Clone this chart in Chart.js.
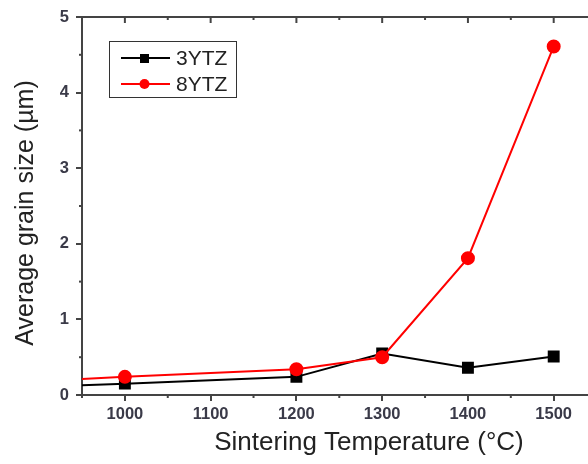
<!DOCTYPE html>
<html>
<head>
<meta charset="utf-8">
<script src="https://cdn.jsdelivr.net/npm/chart.js@4"></script>
<style>
  html, body { margin: 0; padding: 0; background: #fff; }
  #wrap { width: 588px; height: 464px; }
</style>
</head>
<body>
<div id="wrap"><canvas id="grainChart" width="588" height="464"></canvas></div>
<script>
// data (first point sits on the left frame, no marker)
const temperatures = [950, 1000, 1200, 1300, 1400, 1500];
const ytz3 = [0.13, 0.15, 0.24, 0.55, 0.36, 0.51];
const ytz8 = [0.21, 0.24, 0.34, 0.50, 1.81, 4.61];
const xTicks = [1000, 1100, 1200, 1300, 1400, 1500];
const xMinor = [950, 1050, 1150, 1250, 1350, 1450, 1550];
const yTicks = [0, 1, 2, 3, 4, 5];
const yMinor = [0.5, 1.5, 2.5, 3.5, 4.5];
const xTitle = "Sintering Temperature (°C)";
const yTitle = "Average grain size (µm)";

const FONT = "'Liberation Sans', Arial, sans-serif";
const AXIS = "#444";

const toPoints = ys => temperatures.map((t, i) => ({ x: t, y: ys[i] }));
const radii = r => temperatures.map((t, i) => (i === 0 ? 0 : r));

// minor ticks, top frame, titles and the boxed legend
const decorations = {
  id: "decorations",
  afterDraw(chart) {
    const { ctx, chartArea: a, scales } = chart;
    const x = scales.x, y = scales.y;
    ctx.save();
    ctx.strokeStyle = AXIS;
    ctx.lineWidth = 2;
    // top frame
    ctx.beginPath();
    ctx.moveTo(a.left - 1, a.top);
    ctx.lineTo(a.right, a.top);
    ctx.stroke();
    // top ticks pointing inward
    xTicks.forEach(v => {
      const px = x.getPixelForValue(v);
      ctx.beginPath(); ctx.moveTo(px, a.top); ctx.lineTo(px, a.top + 6); ctx.stroke();
    });
    xMinor.forEach(v => {
      const px = x.getPixelForValue(v);
      if (px > a.right) return;
      ctx.beginPath(); ctx.moveTo(px, a.top); ctx.lineTo(px, a.top + 3); ctx.stroke();
      ctx.beginPath(); ctx.moveTo(px, a.bottom); ctx.lineTo(px, a.bottom + 3); ctx.stroke();
    });
    yMinor.forEach(v => {
      const py = y.getPixelForValue(v);
      ctx.beginPath(); ctx.moveTo(a.left - 3, py); ctx.lineTo(a.left + 1, py); ctx.stroke();
    });

    // axis titles
    ctx.fillStyle = "#222";
    ctx.textAlign = "center";
    ctx.textBaseline = "middle";
    ctx.font = "26px " + FONT;
    ctx.fillText(xTitle, 369, 443);
    ctx.save();
    ctx.translate(26, 213);
    ctx.rotate(-Math.PI / 2);
    ctx.font = "25px " + FONT;
    ctx.fillText(yTitle, 0, 0);
    ctx.restore();

    // legend
    const lx = 109, ly = 41, lw = 127, lh = 56;
    ctx.lineWidth = 1;
    ctx.strokeStyle = "#333";
    ctx.strokeRect(lx + 0.5, ly + 0.5, lw, lh);
    chart.data.datasets.forEach((ds, i) => {
      const rowY = ly + 17 + i * 26;
      ctx.strokeStyle = ds.borderColor;
      ctx.lineWidth = 2;
      ctx.beginPath(); ctx.moveTo(lx + 12, rowY); ctx.lineTo(lx + 61, rowY); ctx.stroke();
      ctx.fillStyle = ds.backgroundColor;
      if (ds.pointStyle === "rect") {
        ctx.fillRect(lx + 31, rowY - 4, 9, 9);
      } else {
        ctx.beginPath(); ctx.arc(lx + 35.5, rowY, 5, 0, Math.PI * 2); ctx.fill();
      }
      ctx.fillStyle = "#222";
      ctx.font = "21px " + FONT;
      ctx.textAlign = "left";
      ctx.fillText(ds.label, lx + 67, rowY + 1);
    });
    ctx.restore();
  }
};

new Chart(document.getElementById("grainChart"), {
  type: "line",
  data: {
    datasets: [
      {
        label: "3YTZ",
        data: toPoints(ytz3),
        borderColor: "#000",
        backgroundColor: "#000",
        borderWidth: 2,
        pointStyle: "rect",
        pointRadius: radii(7),
        order: 1
      },
      {
        label: "8YTZ",
        data: toPoints(ytz8),
        borderColor: "#ff0000",
        backgroundColor: "#ff0000",
        borderWidth: 2,
        pointStyle: "circle",
        pointRadius: radii(6),
        order: 0
      }
    ]
  },
  options: {
    responsive: false,
    animation: false,
    // the figure is cropped at the right, so no room kept for markers
    layout: { padding: 0, autoPadding: false },
    plugins: { legend: { display: false }, tooltip: { enabled: false } },
    elements: { line: { tension: 0 }, point: { borderWidth: 0 } },
    scales: {
      x: {
        type: "linear",
        min: 950,
        max: 1540,
        afterBuildTicks: s => { s.ticks = xTicks.map(v => ({ value: v })); },
        afterFit: s => { s.height = 69; },
        grid: { drawOnChartArea: false, tickLength: 6, color: AXIS, lineWidth: 2 },
        border: { color: AXIS, width: 2 },
        ticks: {
          color: "#3a3a48",
          font: { family: FONT, size: 16.5, weight: "bold" },
          padding: 4,
          maxRotation: 0,
          callback: v => String(v)
        }
      },
      y: {
        min: 0,
        max: 5,
        afterBuildTicks: s => { s.ticks = yTicks.map(v => ({ value: v })); },
        afterFit: s => { s.width = 82; },
        grid: { drawOnChartArea: false, tickLength: 6, color: AXIS, lineWidth: 2 },
        border: { color: AXIS, width: 2 },
        ticks: { color: "#3a3a48", font: { family: FONT, size: 16.5, weight: "bold" }, padding: 7 }
      },
      top: {
        type: "linear",
        position: "top",
        min: 950,
        max: 1540,
        afterFit: s => { s.height = 17; },
        grid: { display: false },
        border: { display: false },
        ticks: { display: false }
      }
    }
  },
  plugins: [decorations]
});
</script>
</body>
</html>
